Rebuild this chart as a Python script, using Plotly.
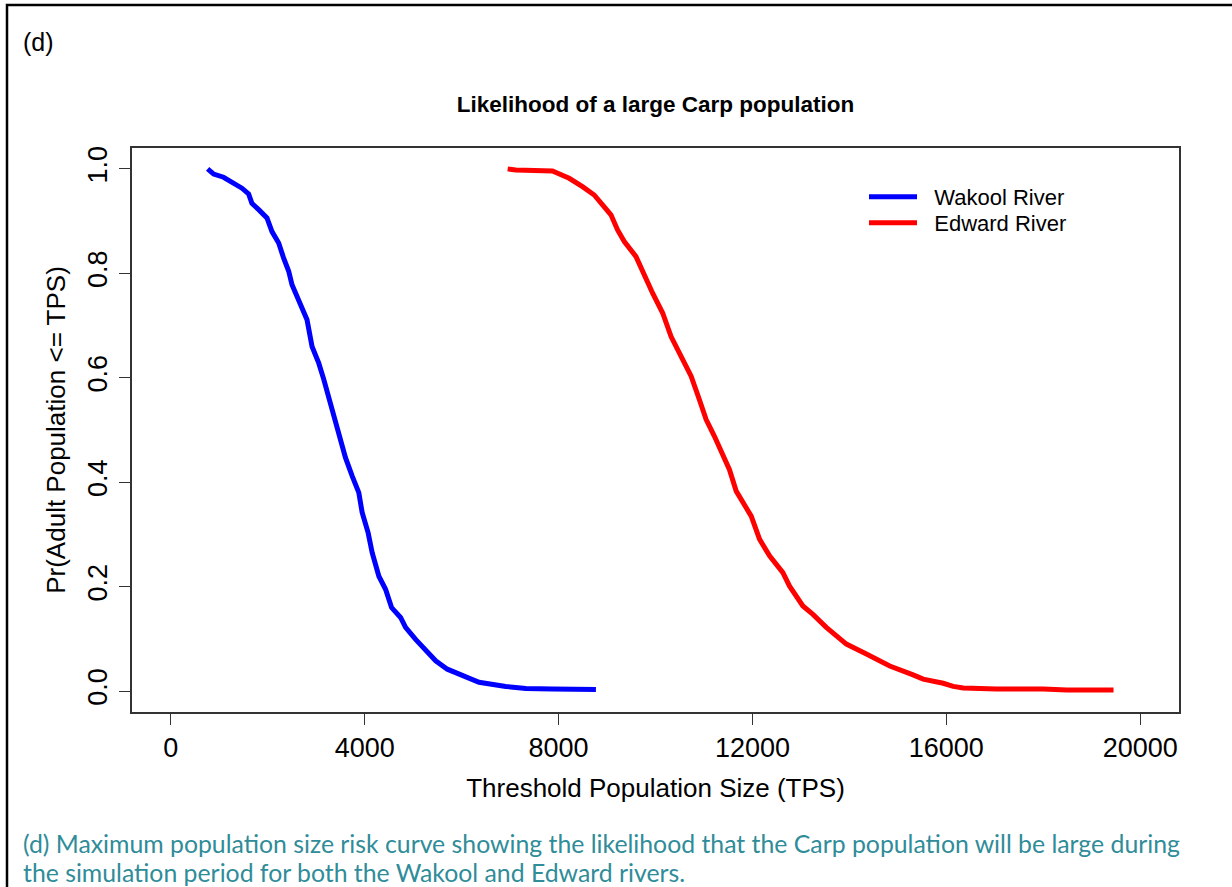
import plotly.graph_objects as go

# Wakool River risk curve
wakool_x = [760, 885, 1089, 1261, 1468, 1606, 1674, 1813, 1984, 2088, 2226, 2329, 2433, 2501,
            2639, 2811, 2914, 3053, 3156, 3294, 3398, 3535, 3604, 3741, 3879, 3948, 4072, 4155,
            4293, 4431, 4555, 4741, 4844, 5051, 5258, 5465, 5705, 6015, 6359, 6911, 7325, 7874, 8771]
wakool_y = [1.000, 0.990, 0.984, 0.974, 0.963, 0.952, 0.934, 0.922, 0.906, 0.880, 0.858, 0.829,
            0.804, 0.778, 0.750, 0.711, 0.660, 0.628, 0.597, 0.552, 0.514, 0.476, 0.447, 0.412,
            0.380, 0.342, 0.303, 0.265, 0.220, 0.195, 0.160, 0.141, 0.122, 0.099, 0.077, 0.058,
            0.042, 0.029, 0.017, 0.009, 0.005, 0.004, 0.003]

# Edward River risk curve
edward_x = [6950, 7118, 7874, 8219, 8494, 8736, 8908, 9081, 9218, 9356, 9598, 9770, 9941, 10148,
            10321, 10528, 10735, 10906, 11045, 11216, 11388, 11526, 11665, 11975, 12146, 12353,
            12628, 12766, 13041, 13248, 13524, 13938, 14351, 14833, 15315, 15522, 15935, 16142,
            16349, 17039, 18002, 18485, 19449]
edward_y = [1.000, 0.998, 0.996, 0.982, 0.966, 0.950, 0.931, 0.912, 0.883, 0.861, 0.832, 0.794,
            0.762, 0.724, 0.679, 0.641, 0.603, 0.558, 0.520, 0.488, 0.450, 0.424, 0.383, 0.335,
            0.291, 0.259, 0.227, 0.201, 0.163, 0.147, 0.122, 0.090, 0.071, 0.048, 0.031, 0.023,
            0.015, 0.009, 0.006, 0.004, 0.004, 0.002, 0.002]

series_names = ["Wakool River", "Edward River"]
x_ticks = [0, 4000, 8000, 12000, 16000, 20000]
x_tick_labels = ["0", "4000", "8000", "12000", "16000", "20000"]
y_ticks = [0.0, 0.2, 0.4, 0.6, 0.8, 1.0]
y_tick_labels = ["0.0", "0.2", "0.4", "0.6", "0.8", "1.0"]

W, H = 1232, 887
L, R, T, B = 132, 1179, 148, 712
pw, ph = R - L, B - T

def px_x(p):
    return (p - L) / pw

def px_y(p):
    return (B - p) / ph

SANS = "Liberation Sans, Arial, sans-serif"
GAP = "\u00a0\u00a0"  # small gap between legend line and label

fig = go.Figure()
fig.add_trace(go.Scatter(x=wakool_x, y=wakool_y, mode="lines", name=GAP + series_names[0],
                         line=dict(color="#0000FF", width=5), legend="legend"))
fig.add_trace(go.Scatter(x=edward_x, y=edward_y, mode="lines", name=GAP + series_names[1],
                         line=dict(color="#FF0000", width=5), legend="legend2"))

axis_font = dict(family=SANS, size=26, color="#000")
tick_font = dict(family=SANS, size=27, color="#000")
legend_common = dict(xanchor="left", yanchor="middle", bgcolor="rgba(0,0,0,0)", borderwidth=0,
                     font=dict(family=SANS, size=22, color="#000"), itemwidth=48)

fig.update_layout(
    width=W, height=H,
    margin=dict(l=L, r=W - R, t=T, b=H - B, autoexpand=False),
    paper_bgcolor="white", plot_bgcolor="white",
    font=dict(family=SANS, color="#000"),
    title=dict(text="<b>Likelihood of a large Carp population</b>",
               font=dict(size=22.5, family=SANS, color="#000"),
               x=0.5, xref="paper", xanchor="center",
               y=1 - 104 / H, yref="container", yanchor="middle"),
    xaxis=dict(range=[-800, 20800], tickvals=x_ticks, ticktext=x_tick_labels,
               ticks="outside", ticklen=11, tickcolor="#333", tickwidth=1,
               showline=True, mirror=True, linecolor="#333", linewidth=1.5,
               showgrid=False, zeroline=False, tickfont=tick_font,
               title=dict(text="Threshold Population Size (TPS)", font=axis_font, standoff=17)),
    yaxis=dict(range=[-0.04, 1.04], tickvals=y_ticks, ticktext=y_tick_labels,
               ticks="outside", ticklen=11, tickcolor="#333", tickwidth=1,
               showline=True, mirror=True, linecolor="#333", linewidth=1.5,
               showgrid=False, zeroline=False, tickangle=-90, tickfont=tick_font,
               ticklabelstandoff=1,
               title=dict(text="Pr(Adult Population <= TPS)", font=axis_font, standoff=10)),
    legend=dict(x=px_x(864), y=px_y(197), **legend_common),
    legend2=dict(x=px_x(864), y=px_y(223), **legend_common),
    showlegend=True,
)

# outer figure frame (left and top edges visible)
fig.add_shape(type="rect", xref="paper", yref="paper",
              x0=px_x(7), x1=px_x(W + 20), y0=px_y(H + 20), y1=px_y(5),
              line=dict(color="#000", width=2.5), fillcolor="rgba(0,0,0,0)", layer="below")

fig.add_annotation(text="(d)", xref="paper", yref="paper", x=px_x(21), y=px_y(42),
                   xanchor="left", yanchor="middle", showarrow=False,
                   font=dict(family=SANS, size=25, color="#000"))

caption_font = dict(family="Lato, Carlito, Calibri, sans-serif", size=24.8, color="#2F8C99")
fig.add_annotation(text="(d) Maximum population size risk curve showing the likelihood that the Carp population will be large during",
                   xref="paper", yref="paper", x=px_x(21), y=px_y(843),
                   xanchor="left", yanchor="middle", showarrow=False, font=caption_font)
fig.add_annotation(text="the simulation period for both the Wakool and Edward rivers.",
                   xref="paper", yref="paper", x=px_x(21), y=px_y(872),
                   xanchor="left", yanchor="middle", showarrow=False, font=caption_font)

fig.write_html("out.html", config={"displayModeBar": False},
               post_script="document.body.style.margin='0';")
